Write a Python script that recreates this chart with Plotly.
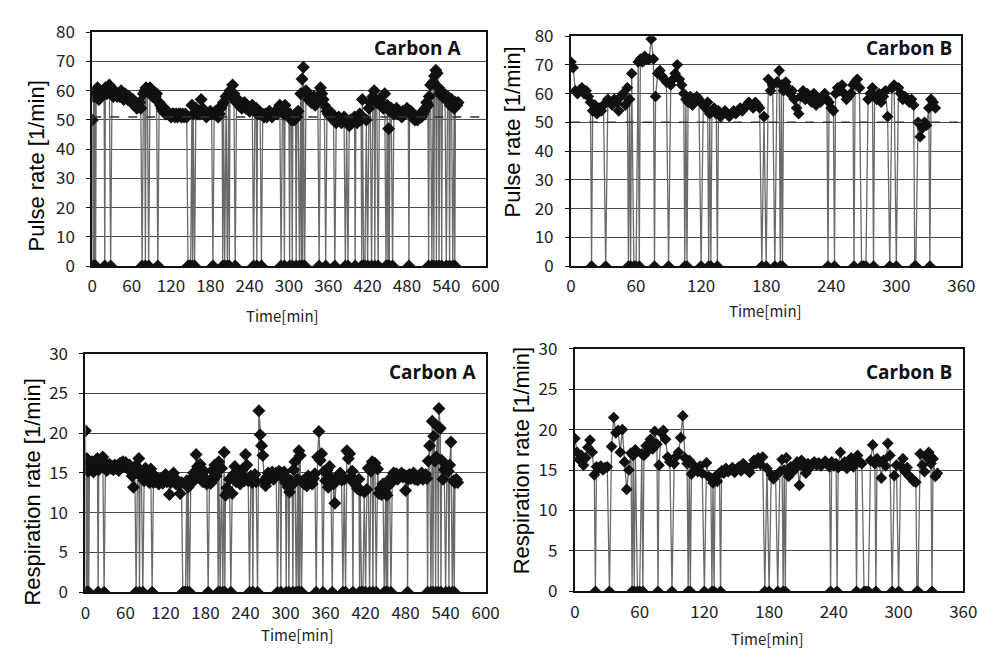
import plotly.graph_objects as go

# ---------------- data ----------------
# Carbon A: readings every 2 min (0-558 min)
time_a = list(range(0, 559, 2))
pulse_a = [
    50, 58, 60, 59, 61, 57, 60, 58, 59, 60,
    61, 59, 60, 62, 60, 59, 58, 60, 59, 58,
    59, 58, 60, 58, 57, 59, 58, 57, 58, 57,
    56, 57, 55, 56, 54, 55, 56, 54, 57, 59,
    60, 61, 60, 59, 61, 60, 58, 59, 58, 59,
    57, 56, 55, 54, 53, 54, 52, 53, 52, 52,
    51, 52, 52, 51, 52, 51, 52, 52, 51, 52,
    51, 52, 51, 52, 50, 53, 55, 52, 53, 54,
    52, 53, 52, 57, 54, 53, 52, 51, 52, 52,
    53, 52, 51, 52, 53, 52, 51, 52, 54, 55,
    56, 55, 58, 57, 59, 60, 58, 62, 59, 57,
    56, 57, 55, 56, 54, 55, 56, 54, 55, 54,
    53, 54, 55, 57, 53, 54, 52, 53, 52, 51,
    52, 51, 52, 51, 52, 53, 52, 51, 52, 52,
    53, 52, 54, 55, 53, 54, 52, 55, 53, 52,
    51, 52, 50, 51, 50, 52, 51, 53, 55, 59,
    64, 68, 66, 60, 59, 57, 58, 56, 57, 58,
    55, 56, 58, 60, 61, 59, 57, 55, 54, 53,
    52, 53, 51, 52, 50, 51, 49, 50, 51, 50,
    49, 50, 51, 54, 50, 49, 48, 50, 49, 50,
    51, 50, 49, 51, 52, 50, 57, 53, 51, 50,
    52, 54, 56, 55, 58, 60, 57, 56, 55, 57,
    56, 55, 54, 59, 56, 55, 47, 53, 54, 53,
    52, 53, 54, 52, 53, 52, 51, 53, 52, 53,
    54, 53, 52, 53, 52, 51, 50, 51, 50, 51,
    52, 51, 52, 53, 54, 56, 55, 58, 62, 60,
    63, 65, 67, 66, 61, 59, 60, 58, 59, 58,
    60, 58, 56, 55, 57, 56, 54, 56, 55, 56,
]
resp_a = [
    20.3, 16.8, 15.2, 16.0, 15.5, 16.4, 15.1, 16.2, 15.6, 16.8,
    15.4, 16.6, 15.8, 17.0, 15.5, 16.2, 15.3, 15.9, 16.1, 15.6,
    15.8, 15.4, 16.0, 15.6, 15.9, 15.3, 16.2, 15.7, 16.4, 15.8,
    16.3, 15.9, 15.5, 16.0, 15.2, 14.6, 13.2, 15.8, 14.2, 15.0,
    16.8, 15.4, 14.6, 15.2, 14.0, 15.6, 14.8, 14.2, 13.8, 15.5,
    14.5, 13.8, 14.6, 13.9, 14.3, 13.6, 14.2, 14.0, 13.7, 14.4,
    14.8, 13.9, 14.2, 12.3, 13.8, 14.5, 15.0, 14.2, 13.6, 14.0,
    13.5, 12.4, 13.8, 12.1, 13.4, 12.6, 14.0, 13.2, 15.6, 14.2,
    13.8, 15.0, 14.4, 17.3, 15.8, 14.5, 16.1, 14.8, 13.9, 15.2,
    14.2, 13.6, 14.8, 14.0, 13.7, 15.3, 14.2, 16.0, 14.6, 15.4,
    16.4, 14.8, 15.6, 16.6, 17.6, 12.2, 13.1, 12.6, 14.2, 13.6,
    12.4, 14.8, 15.8, 13.9, 14.4, 15.2, 13.6, 14.8, 15.5, 14.0,
    17.3, 16.0, 14.0, 13.5, 14.6, 13.8, 14.2, 14.8, 13.9, 23.4,
    22.8, 19.8, 18.4, 17.2, 14.0, 13.4, 14.5, 15.0, 14.3, 14.8,
    15.1, 14.2, 14.6, 15.0, 14.4, 15.2, 14.7, 15.0, 14.6, 15.1,
    13.8, 14.4, 13.2, 12.6, 14.0, 13.5, 15.4, 16.4, 15.0, 14.2,
    17.8, 17.2, 15.2, 14.0, 13.6, 14.2, 13.4, 14.6, 13.8, 14.1,
    13.6, 14.3, 14.9, 16.2, 17.0, 20.2, 16.6, 17.4, 14.8, 15.2,
    14.0, 15.3, 13.2, 15.8, 14.4, 12.8, 13.6, 11.2, 14.0, 14.6,
    14.3, 15.0, 14.1, 14.6, 14.2, 14.9, 17.8, 16.8, 17.4, 14.5,
    15.2, 13.8, 14.1, 13.4, 13.0, 14.2, 12.8, 13.6, 13.2, 12.6,
    13.3, 12.9, 15.6, 16.3, 15.2, 16.4, 15.8, 16.2, 14.2, 15.5,
    12.4, 13.0, 12.3, 13.6, 14.3, 12.5, 12.2, 13.4, 14.2, 14.8,
    13.9, 15.0, 14.4, 14.9, 14.2, 14.6, 14.8, 15.0, 14.5, 14.7,
    12.8, 14.6, 14.2, 14.8, 14.3, 14.6, 15.0, 14.2, 14.5, 14.1,
    14.6, 14.4, 15.0, 14.2, 14.5, 14.8, 14.3, 16.5, 18.4, 20.2,
    21.5, 19.6, 16.5, 17.0, 20.8, 23.1, 20.6, 16.6, 14.2, 15.4,
    14.0, 15.8, 15.2, 16.0, 18.9, 16.6, 14.0, 13.8, 14.2, 13.8,
]
# minutes with no signal (value recorded as 0)
dropouts_a = [1, 3, 5, 19, 28, 76, 81, 86, 100, 146, 148, 150, 153, 156,
              184, 199, 202, 206, 209, 218, 246, 251, 258, 288, 293, 301,
              305, 311, 316, 319, 321, 324, 346, 356, 370, 386, 390, 401,
              411, 414, 416, 420, 426, 431, 436, 448, 451, 453, 458, 483,
              513, 518, 521, 525, 529, 533, 540, 545, 550, 553]

# Carbon B: readings every 2 min (0-336 min)
time_b = list(range(0, 337, 2))
pulse_b = [
    71, 69, 61, 60, 61, 62, 60, 61, 59, 57,
    54, 56, 53, 55, 54, 56, 57, 58, 57, 56,
    58, 57, 54, 59, 60, 56, 62, 58, 67, 68,
    70, 71, 72, 71, 73, 72, 72, 79, 72, 59,
    67, 68, 66, 65, 64, 66, 63, 65, 67, 70,
    65, 63, 60, 58, 57, 59, 56, 57, 59, 58,
    57, 56, 55, 57, 53, 54, 55, 53, 54, 52,
    53, 54, 53, 52, 53, 54, 53, 54, 55, 54,
    55, 56, 57, 56, 55, 57, 56, 55, 53, 52,
    63, 65, 61, 63, 60, 64, 68, 63, 61, 64,
    62, 60, 61, 58, 55, 53, 59, 61, 58, 60,
    59, 57, 60, 56, 58, 57, 59, 60, 58, 57,
    55, 54, 60, 62, 61, 63, 60, 58, 59, 60,
    63, 64, 65, 62, 55, 52, 56, 58, 60, 62,
    59, 58, 60, 57, 59, 61, 52, 60, 62, 63,
    61, 62, 60, 58, 59, 58, 57, 58, 56, 55,
    50, 45, 48, 50, 49, 55, 58, 57, 55,
]
resp_b = [
    18.9, 17.2, 16.3, 16.8, 15.6, 16.5, 17.8, 18.7, 17.2, 14.4,
    15.4, 15.2, 15.5, 15.0, 15.3, 15.4, 15.2, 17.9, 21.5, 19.6,
    19.9, 17.2, 20.0, 16.0, 12.6, 15.0, 17.1, 16.8, 17.5, 18.6,
    19.4, 17.0, 16.8, 18.0, 17.4, 18.8, 17.6, 19.8, 18.2, 15.6,
    19.6, 19.9, 18.8, 16.6, 16.0, 17.0, 15.8, 16.7, 17.2, 19.0,
    21.7, 16.5, 15.8, 16.2, 14.5, 15.6, 15.2, 14.8, 15.5, 14.6,
    13.8, 15.9, 14.2, 14.0, 13.4, 14.2, 13.6, 14.6, 14.9, 14.6,
    15.2, 14.8, 15.0, 15.3, 14.7, 15.1, 15.4, 14.9, 15.8, 15.2,
    15.0, 14.7, 15.5, 16.2, 15.8, 16.5, 15.7, 16.6, 14.9, 15.2,
    14.0, 14.4, 13.9, 14.3, 17.5, 14.8, 16.3, 15.0, 16.5, 14.2,
    15.4, 14.8, 15.2, 16.0, 13.1, 16.2, 15.4, 14.6, 15.8, 15.3,
    15.8, 16.0, 15.6, 15.9, 15.5, 15.8, 16.1, 15.7, 15.4, 16.0,
    15.5, 15.8, 15.3, 17.2, 15.6, 16.0, 15.2, 15.6, 16.5, 15.4,
    16.2, 16.8, 16.0, 15.8, 17.0, 15.6, 16.5, 16.2, 18.1, 15.8,
    16.4, 16.0, 14.0, 16.2, 15.5, 18.3, 16.8, 15.2, 14.3, 15.6,
    18.0, 15.5, 16.4, 14.8, 15.3, 14.2, 14.0, 13.6, 13.5, 16.8,
    17.0, 15.6, 14.8, 16.6, 17.2, 15.8, 16.4, 14.2, 14.6,
]
dropouts_b = [19, 32, 53, 55, 58, 60, 63, 77, 90, 105, 107, 120, 127, 129,
              135, 176, 180, 188, 193, 195, 237, 243, 261, 268, 270, 272,
              279, 294, 300, 317, 318, 331]

# dashed reference levels on the pulse panels
pulse_ref_a = 51
pulse_ref_b = 50

panel_labels = ["Carbon A", "Carbon B", "Carbon A", "Carbon B"]
x_ticks_a = list(range(0, 601, 60))
x_ticks_b = list(range(0, 361, 60))


def merge(times, values, drops):
    """Combine regular samples with zero-valued dropout samples."""
    series = dict(zip(times, values))
    for t in drops:
        series[t] = 0
    ts = sorted(series)
    return ts, [series[t] for t in ts]


W, H = 994, 659
# plot areas in pixels: (left, right, top, bottom)
boxes = [
    (89, 490, 19, 262),
    (577, 975, 23, 262),
    (82, 490, 353, 601),
    (581, 977, 348, 600),
]

panels = [
    (time_a, pulse_a, dropouts_a, 600, 80, 10, x_ticks_a, 10),
    (time_b, pulse_b, dropouts_b, 360, 80, 10, x_ticks_b, 9),
    (time_a, resp_a, dropouts_a, 600, 30, 5, x_ticks_a, 10),
    (time_b, resp_b, dropouts_b, 360, 30, 5, x_ticks_b, 9),
]

fig = go.Figure()
tick_font = dict(family="Noto Sans CJK JP", size=17, color="#222")
layout = {}
for i, ((t, v, d, xmax, ymax, ystep, xt, msize), (l, r, tp, bt)) in enumerate(zip(panels, boxes)):
    n = "" if i == 0 else str(i + 1)
    ts, vs = merge(t, v, d)
    fig.add_trace(go.Scatter(
        x=ts, y=vs, mode="lines+markers",
        line=dict(color="#6a6a6a", width=1.3),
        marker=dict(symbol="diamond", size=msize, color="#111"),
        xaxis="x" + n, yaxis="y" + n, showlegend=False, cliponaxis=True,
    ))
    layout["xaxis" + n] = dict(
        domain=[l / W, r / W], range=[0, xmax], anchor="y" + n,
        tickvals=xt, showgrid=False, zeroline=False,
        showline=True, linecolor="#111", linewidth=2, mirror=True,
        ticks="", tickfont=tick_font, ticklabelstandoff=4,
    )
    layout["yaxis" + n] = dict(
        domain=[1 - bt / H, 1 - tp / H], range=[0, ymax], anchor="x" + n,
        dtick=ystep, showgrid=True, gridcolor="#4a4a4a", gridwidth=1,
        zeroline=False, showline=True, linecolor="#111", linewidth=2,
        mirror=True, ticks="outside", ticklen=4, tickcolor="#111",
        tickfont=tick_font, ticklabelstandoff=8,
    )

shapes = []
for n, lvl in (("", pulse_ref_a), ("2", pulse_ref_b)):
    shapes.append(dict(type="line", xref="x" + n + " domain", yref="y" + n,
                       x0=0, x1=1, y0=lvl, y1=lvl,
                       line=dict(color="#333", width=1.5, dash="dash")))

annotations = []
label_pos = [(0.943, 0.934), (0.982, 0.95), (0.98, 0.923), (0.977, 0.905)]
for i, (lab, (ax, ay)) in enumerate(zip(panel_labels, label_pos)):
    n = "" if i == 0 else str(i + 1)
    annotations.append(dict(
        text=f"<b>{lab}</b>", xref="x" + n + " domain", yref="y" + n + " domain",
        x=ax, y=ay, xanchor="right", yanchor="middle", showarrow=False,
        font=dict(family="Open Sans", size=19, color="#111"),
    ))

title_font = dict(family="Liberation Sans", size=22, color="#000")
y_titles = [("Pulse rate [1/min]", 32, 158), ("Pulse rate [1/min]", 517, 123),
            ("Respiration rate [1/min]", 28, 497), ("Respiration rate [1/min]", 526, 464)]
for txt, px, py in y_titles:
    annotations.append(dict(text=txt, xref="paper", yref="paper",
                            x=px / W, y=1 - py / H, xanchor="center",
                            yanchor="middle", textangle=-90, showarrow=False,
                            font=title_font))
x_titles = [(283, 313), (775, 308), (298, 645), (777, 649)]
for px, py in x_titles:
    annotations.append(dict(text="Time[min]", xref="paper", yref="paper",
                            x=px / W, y=1 - py / H, xanchor="center",
                            yanchor="middle", showarrow=False,
                            font=dict(family="Noto Sans CJK JP", size=15, color="#222")))

fig.update_layout(
    width=W, height=H, margin=dict(l=0, r=0, t=0, b=0),
    paper_bgcolor="white", plot_bgcolor="white",
    shapes=shapes, annotations=annotations, **layout,
)
fig.write_html("out.html")
